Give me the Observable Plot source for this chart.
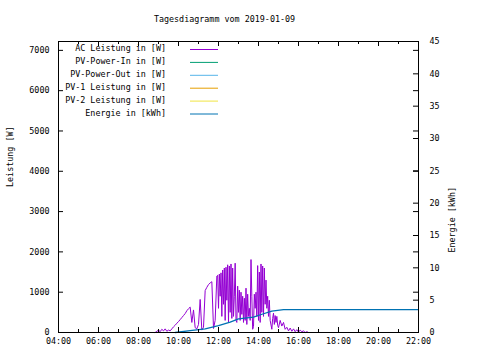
<!DOCTYPE html>
<html><head><meta charset="utf-8">
<script src="https://cdn.jsdelivr.net/npm/d3@7"></script>
<script src="https://cdn.jsdelivr.net/npm/@observablehq/plot@0.6"></script>
<style>
html,body{margin:0;padding:0;background:#fff;}
#chart{width:480px;height:360px;}
</style></head><body><div id="chart"></div>
<script>
const title = "Tagesdiagramm vom 2019-01-09";
const yTitle = "Leistung [W]";
const y2Title = "Energie [kWh]";
const seriesNames = ["AC Leistung in [W]", "PV-Power-In in [W]", "PV-Power-Out in [W]", "PV-1 Leistung in [W]", "PV-2 Leistung in [W]", "Energie in [kWh]"];
const seriesColors = ["#9400d3", "#009e73", "#56b4e9", "#e69f00", "#f0e442", "#0072b2"];

const acTimes = ["08:50","08:55","09:00","09:05","09:10","09:15","09:20","09:25","09:30","09:35","09:40","09:45","09:50","09:55",
"10:00","10:05","10:10","10:15","10:20","10:25","10:30","10:35","10:40","10:45","10:50","10:55",
"11:00","11:05","11:10","11:15","11:20","11:25","11:30","11:35","11:40","11:45","11:50","11:55","11:57.5",
"12:00","12:02.5","12:05","12:07.5","12:10","12:12.5","12:15","12:17.5","12:20","12:22.5","12:25","12:27.5",
"12:30","12:32.5","12:35","12:37.5","12:40","12:42.5","12:45","12:47.5","12:50","12:52.5","12:55","12:57.5",
"13:00","13:02.5","13:05","13:07.5","13:10","13:12.5","13:15","13:17.5","13:20","13:22.5","13:25","13:27.5",
"13:30","13:32.5","13:35","13:37.5","13:40","13:42.5","13:45","13:47.5","13:50","13:52.5","13:55","13:57.5",
"14:00","14:02.5","14:05","14:07.5","14:10","14:12.5","14:15","14:17.5","14:20","14:22.5","14:25","14:27.5",
"14:30","14:32.5","14:35","14:40","14:42.5","14:45","14:47.5","14:50","14:52.5","14:55","14:57.5",
"15:00","15:05","15:10","15:15","15:20","15:25","15:30","15:35","15:40","15:45","15:50","15:55",
"16:00","16:05","16:10","16:15","16:20","16:25","16:30"];
const acValues = [0,30,60,20,80,40,90,30,60,40,90,140,180,230,
270,320,370,420,470,540,590,630,250,560,120,90,
200,820,60,130,1040,1120,1190,1230,1260,100,300,1400,1420,
600,1450,900,1480,400,1550,700,1600,300,1620,800,1680,
250,1650,500,1700,350,1600,400,900,1720,300,250,1150,
500,1050,300,1000,450,900,250,850,300,1100,200,950,
400,600,300,1810,900,80,150,950,600,1000,400,1660,
300,1500,250,1700,500,1650,400,1600,700,1300,600,900,
400,800,300,80,350,480,200,420,250,400,180,
120,300,160,250,80,130,40,110,30,90,20,70,
10,60,20,40,0,20,0];

const energyTimes = ["09:50","10:35","11:20","12:00","12:35","13:00","13:45","14:15","14:40","15:15","22:00"];
const energyValues = [0,0.3,0.57,1.08,1.6,2.1,2.37,2.9,3.3,3.55,3.55];

const xMajorHours = [4,6,8,10,12,14,16,18,20,22];
const xMinorHours = [5,7,9,11,13,15,17,19,21];
const xTickLabels = ["04:00","06:00","08:00","10:00","12:00","14:00","16:00","18:00","20:00","22:00"];
const yTicks = [0,1000,2000,3000,4000,5000,6000,7000];
const y2Ticks = [0,5,10,15,20,25,30,35,40,45];
const yMax = 7220, y2Max = 45;

const toH = s => { const [h, m] = s.split(":").map(Number); return h + m / 60; };
const factor = yMax / y2Max;
const ac = acTimes.map((t, i) => ({h: toH(t), w: acValues[i]}));
const energy = energyTimes.map((t, i) => ({h: toH(t), w: energyValues[i] * factor}));

const W = 480, H = 360, mL = 58, mR = 62, mT = 41, mB = 28;
const iw = W - mL - mR, ih = H - mT - mB;
const FONT = "DejaVu Sans Mono";
const FS = 8.4;

function legend(index, scales, values, dims) {
  const g = d3.create("svg:g").attr("font-family", FONT).attr("font-size", FS);
  seriesNames.forEach((name, i) => {
    const y = dims.marginTop + 7 + i * 12.9;
    g.append("text").attr("x", dims.marginLeft + 108).attr("y", y).attr("text-anchor", "end")
      .attr("dominant-baseline", "central").attr("fill", "black").text(name);
    g.append("line").attr("x1", dims.marginLeft + 132).attr("x2", dims.marginLeft + 160)
      .attr("y1", y + 1.5).attr("y2", y + 1.5).attr("stroke", seriesColors[i]).attr("stroke-width", 1);
  });
  return g.node();
}

const chart = Plot.plot({
  width: W, height: H,
  marginLeft: mL, marginRight: mR, marginTop: mT, marginBottom: mB,
  style: {fontFamily: FONT, fontSize: FS + "px", background: "white", color: "black"},
  x: {domain: [4, 22], axis: null},
  y: {domain: [0, yMax], axis: null},
  marks: [
    Plot.line(ac, {x: "h", y: "w", stroke: seriesColors[0], strokeWidth: 1}),
    Plot.line(energy, {x: "h", y: "w", stroke: seriesColors[5], strokeWidth: 1.3}),
    Plot.frame({stroke: "black"}),
    Plot.tickY(yTicks, {y: d => d, stroke: "black", insetRight: iw - 5}),
    Plot.text(yTicks, {y: d => d, frameAnchor: "left", dx: -9, textAnchor: "end", text: d => String(d), fontSize: FS, fill: "black"}),
    Plot.tickY(yTicks, {y: d => d, stroke: "black", insetLeft: iw - 5}),
    Plot.tickY(y2Ticks, {y: d => d * factor, stroke: "black", insetLeft: iw - 5}),
    Plot.text(y2Ticks, {y: d => d * factor, frameAnchor: "right", dx: 11, textAnchor: "start", text: d => String(d), fontSize: FS, fill: "black"}),
    Plot.tickX(xMajorHours, {x: d => d, stroke: "black", insetTop: ih - 5}),
    Plot.tickX(xMinorHours, {x: d => d, stroke: "black", insetTop: ih - 3}),
    Plot.tickX(xMajorHours, {x: d => d, stroke: "black", insetBottom: ih - 5}),
    Plot.tickX(xMinorHours, {x: d => d, stroke: "black", insetBottom: ih - 3}),
    Plot.text(xMajorHours, {x: d => d, frameAnchor: "bottom", dy: 11.5, text: (d, i) => xTickLabels[i], fontSize: FS, fill: "black"}),
    Plot.text([yTitle], {frameAnchor: "left", dx: -48, rotate: -90, fontSize: FS, fill: "black"}),
    Plot.text([y2Title], {frameAnchor: "right", dx: 34, rotate: -90, fontSize: FS, fill: "black"}),
    Plot.text([title], {frameAnchor: "top", dx: -14, dy: -25.5, fontSize: FS, fill: "black"}),
    legend
  ]
});
document.getElementById("chart").appendChild(chart);
</script>
</body></html>
